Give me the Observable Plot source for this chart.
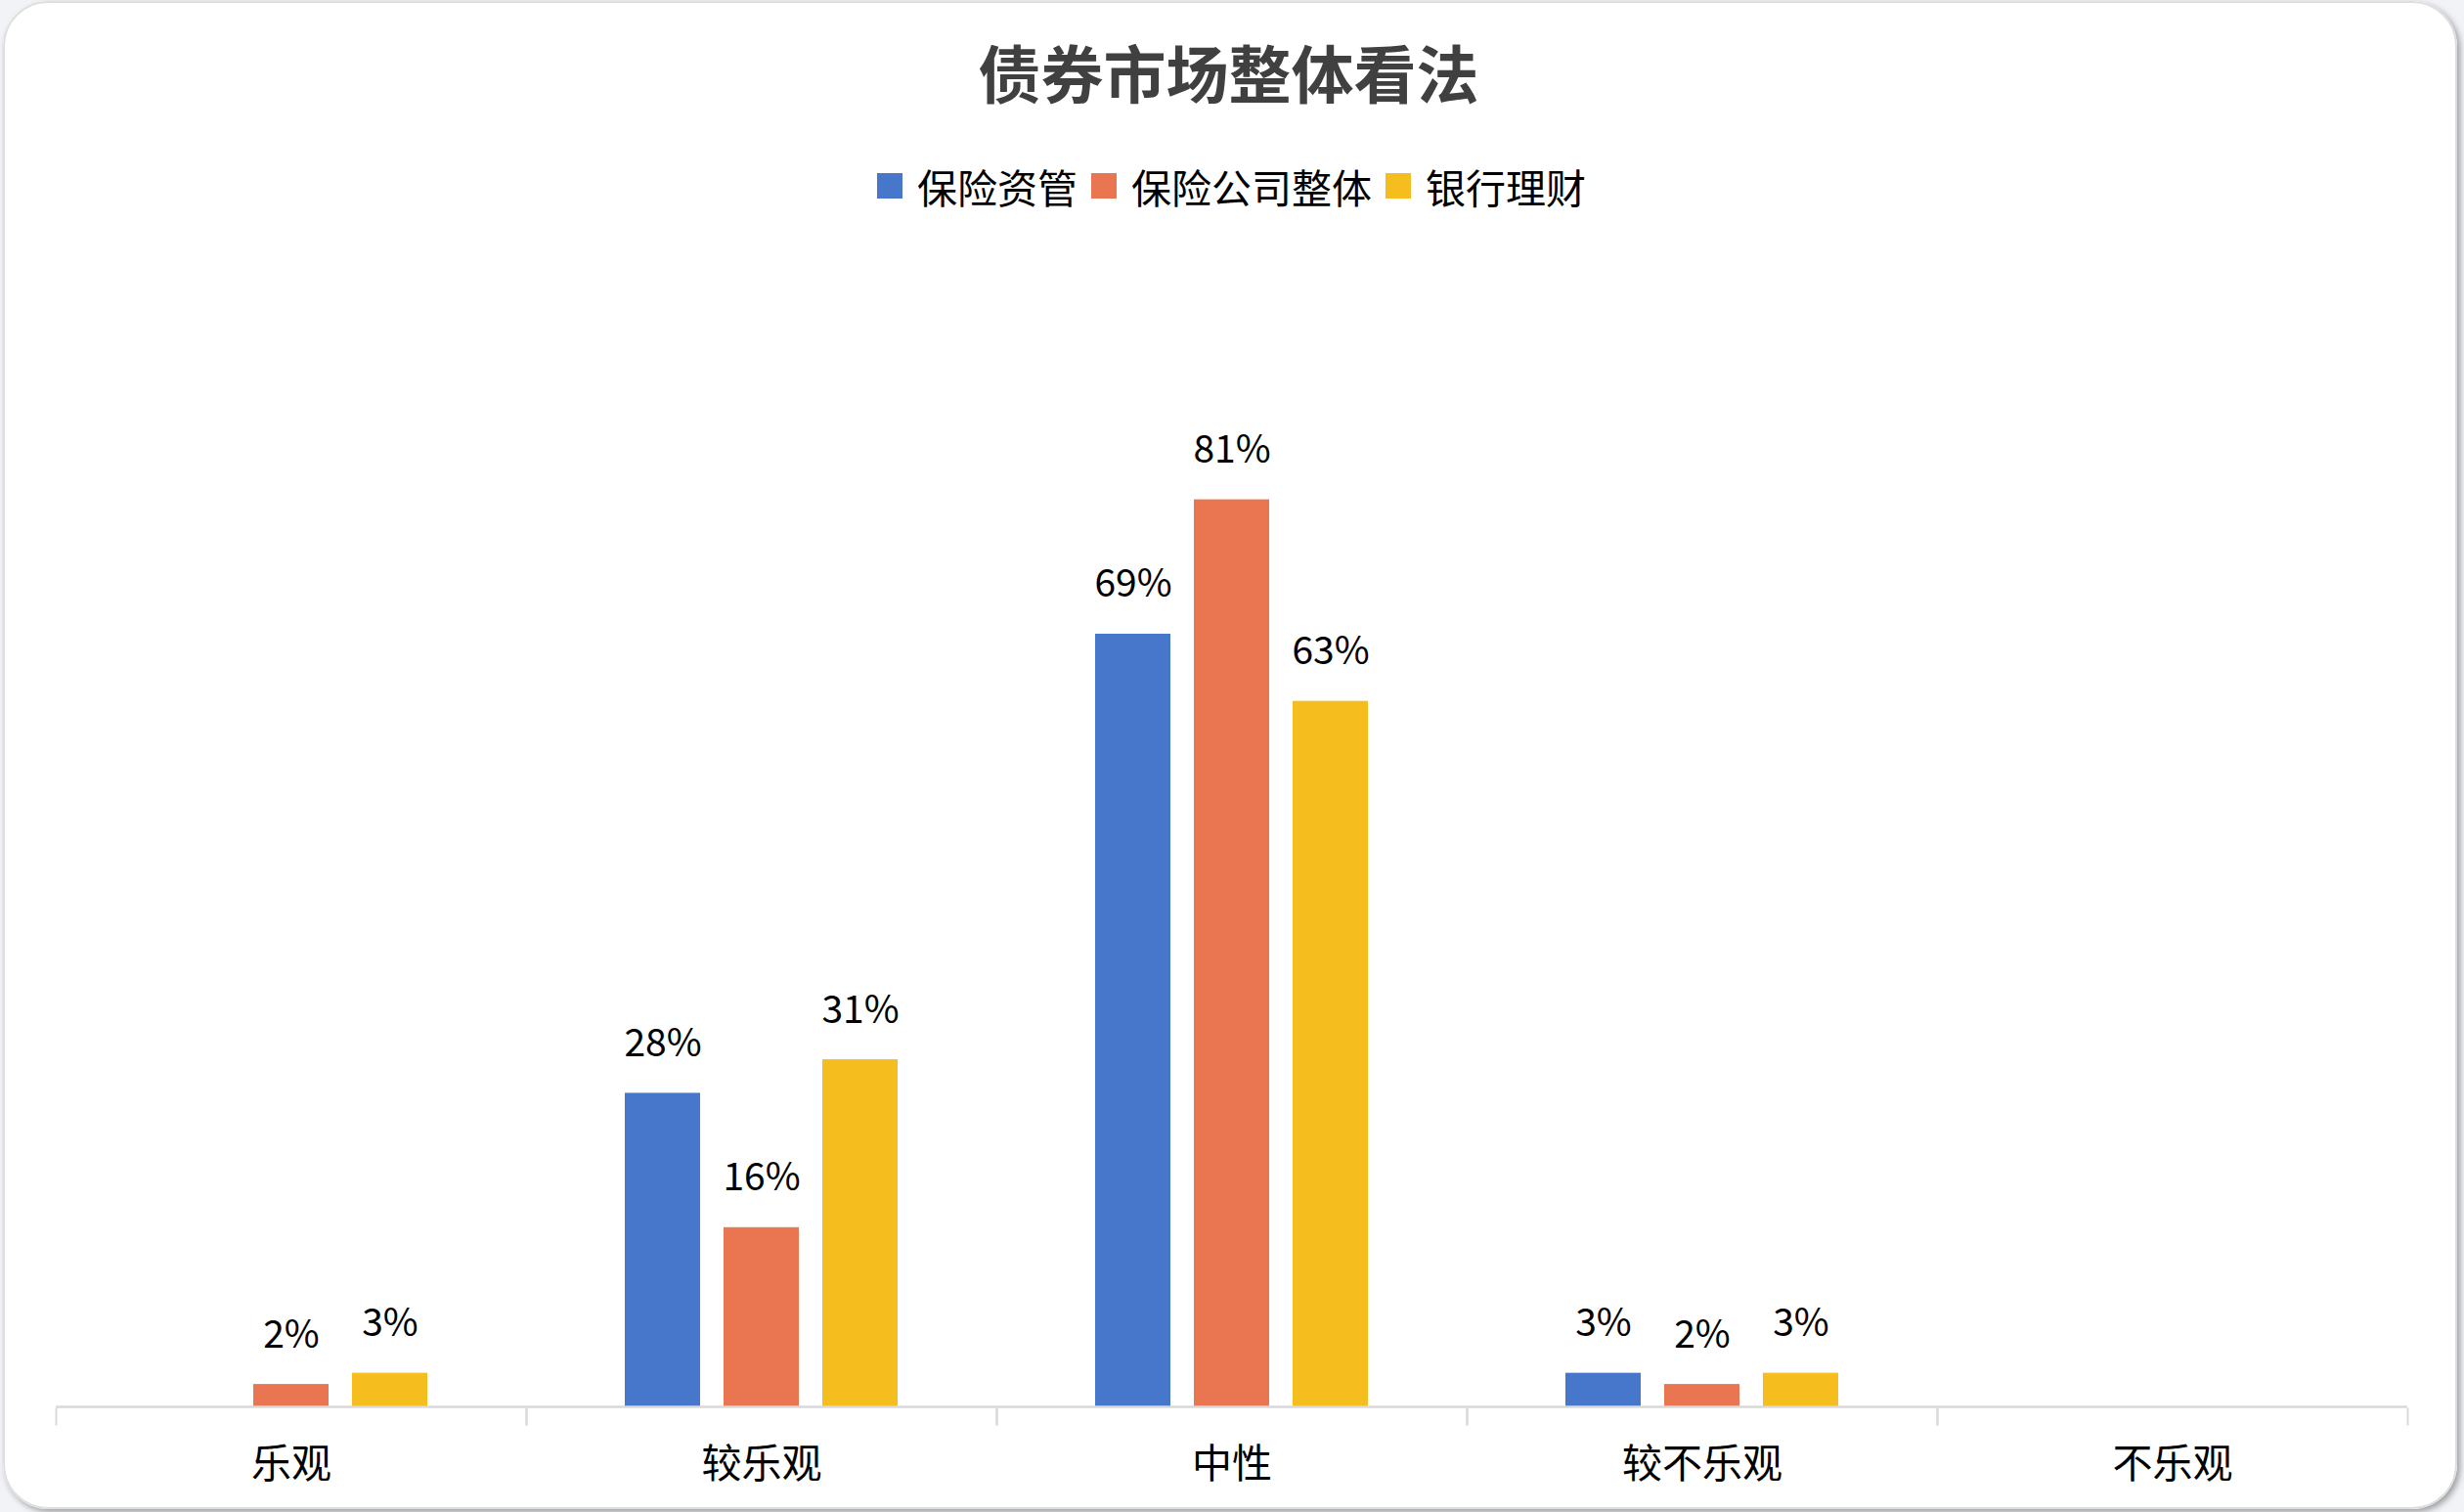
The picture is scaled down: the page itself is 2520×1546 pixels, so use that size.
<!DOCTYPE html>
<html>
<head>
<meta charset="utf-8">
<script src="https://cdn.jsdelivr.net/npm/d3@7"></script>
<script src="https://cdn.jsdelivr.net/npm/@observablehq/plot@0.6"></script>
<style>
html, body { margin: 0; padding: 0; background: #f2f3f7; }
#card {
  position: absolute; left: 3px; top: 1px; width: 2510px; height: 1542px;
  background: #fff; border-radius: 46px; overflow: hidden;
  box-shadow: 3px 3px 6px rgba(0,0,0,0.35);
  font-family: "Noto Sans CJK SC", sans-serif;
}
#card::after {
  content: ""; position: absolute; inset: 0; border: 2px solid #dedede;
  border-radius: 46px; pointer-events: none;
}
#header { position: relative; height: 238px; }
#title {
  position: absolute; left: -3px; right: 0; top: 34px; text-align: center;
  font-size: 64px; font-weight: 700; color: #404040; line-height: 74px;
}
#legend {
  position: absolute; left: 3px; right: 0; top: 164px; display: flex;
  justify-content: center; align-items: center; font-size: 41px; color: #000; line-height: 50px;
}
.item { display: flex; align-items: center; margin: 0 7px; }
.sw { width: 26px; height: 26px; margin-right: 15px; }
#chart { position: relative; left: -3px; width: 2520px; }
#chart svg { max-width: none !important; }
</style>
</head>
<body>
<div id="card">
  <div id="header">
    <div id="title">债券市场整体看法</div>
    <div id="legend"></div>
  </div>
  <div id="chart"></div>
</div>
<script>
const categories = ["乐观", "较乐观", "中性", "较不乐观", "不乐观"];
const seriesNames = ["保险资管", "保险公司整体", "银行理财"];
const insuranceAM = [0, 28, 69, 3, 0];
const insuranceCo = [2, 16, 81, 2, 0];
const bankWM = [3, 31, 63, 3, 0];
const colors = ["#4777CB", "#EA7651", "#F5BD1E"];

const rows = [];
[insuranceAM, insuranceCo, bankWM].forEach((vals, s) =>
  vals.forEach((v, i) => rows.push({category: categories[i], series: seriesNames[s], value: v}))
);

// legend
const legend = document.getElementById("legend");
seriesNames.forEach((name, i) => {
  const item = document.createElement("div");
  item.className = "item";
  const sw = document.createElement("div");
  sw.className = "sw";
  sw.style.background = colors[i];
  const t = document.createElement("span");
  t.textContent = name;
  item.appendChild(sw); item.appendChild(t);
  legend.appendChild(item);
});

const W = 2520, H = 1307;
const mTop = 54, mBottom = 108;
const chart = Plot.plot({
  width: W, height: H,
  marginLeft: 55, marginRight: 56, marginTop: mTop, marginBottom: mBottom,
  style: {fontFamily: '"Noto Sans CJK SC", sans-serif', background: "transparent", color: "#000", overflow: "visible", maxWidth: "none"},
  fx: {domain: categories, padding: 0, label: null},
  x: {domain: seriesNames, paddingInner: 0.24, paddingOuter: 0.982, axis: null},
  y: {domain: [0, 100], axis: null},
  color: {domain: seriesNames, range: colors},
  marks: [
    Plot.barY(rows, {fx: "category", x: "series", y: "value", fill: "series"}),
    Plot.ruleY([0], {stroke: "#d9d9d9", strokeWidth: 2.5}),
    Plot.frame({anchor: "left", stroke: "#d9d9d9", strokeWidth: 2, insetTop: H - mTop - mBottom + 2, insetBottom: -18}),
    Plot.frame({anchor: "right", stroke: "#d9d9d9", strokeWidth: 2, insetTop: H - mTop - mBottom + 2, insetBottom: -18}),
    Plot.text(rows.filter(d => d.value > 0), {
      fx: "category", x: "series", y: "value", text: d => d.value + "%",
      lineAnchor: "bottom", dy: -38, fontSize: 39, fill: "#000"
    }),
    Plot.axisFx({anchor: "bottom", tickSize: 0, tickPadding: 43, fontSize: 41, label: null, fill: "#000"})
  ]
});
document.getElementById("chart").appendChild(chart);
</script>
</body>
</html>
